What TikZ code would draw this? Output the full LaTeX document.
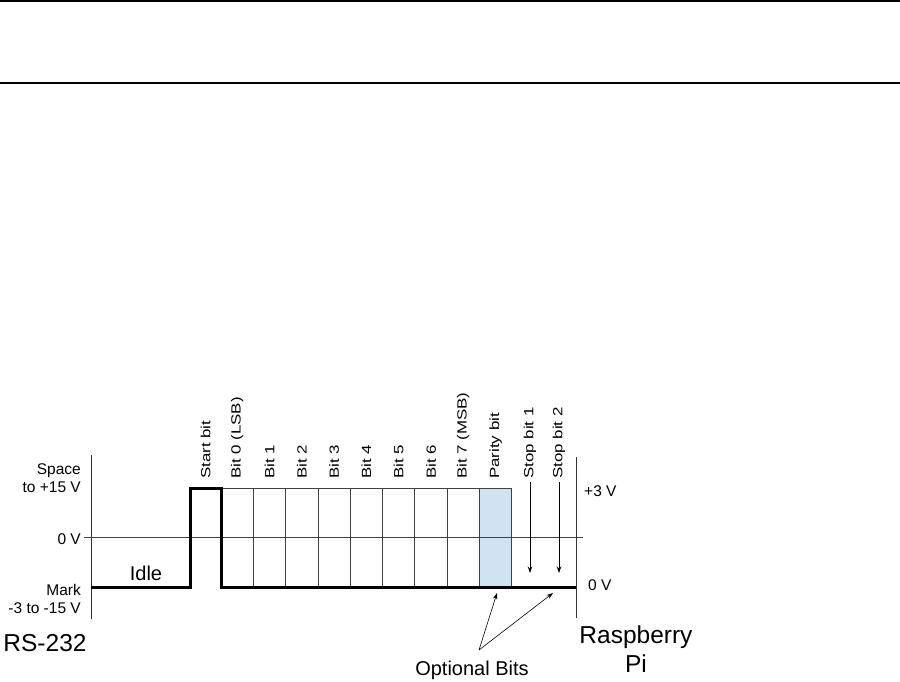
\documentclass[tikz,border=0pt]{standalone}
\usepackage{graphicx}
\usepackage{fontspec}
\setmainfont{Liberation Sans}
\usetikzlibrary{arrows.meta}
\definecolor{paritybg}{RGB}{206,228,243}
\newcommand{\bitname}[1]{\scalebox{1.27}[1]{#1}}

\begin{document}
\begin{tikzpicture}[x=1pt,y=-1pt,>={Stealth[length=6.5pt,width=4.5pt]}]
	% styles
	\tikzstyle{signal} = [line width=3pt,line join=miter]
	\tikzstyle{cell} = [draw=black!75,line width=0.8pt]
	\tikzstyle{axis} = [draw=black!80,line width=1pt]
	\tikzstyle{lvl} = [inner sep=0pt,font=\fontsize{15.5}{18}\selectfont]
	\tikzstyle{bitlbl} = [rotate=90,anchor=west,inner sep=0pt,font=\fontsize{13.3}{15}\selectfont]
	\tikzstyle{big} = [inner sep=0pt,font=\fontsize{24.5}{29}\selectfont]
	
	% bounding box
	\useasboundingbox (0,0) rectangle (900,682);
	
	% rules at the top
	\draw[line width=1.3pt] (0,1) -- (900,1);
	\draw[line width=1.3pt] (0,83) -- (900,83);
	
	% parity cell
	\fill[paritybg] (479.4,488) rectangle (511.7,587);
	
	% bit cells
	\draw[cell] (221,488) -- (511.7,488);
	\foreach \i in {1,...,9}
	{
		\draw[cell] ({221+32.3*\i},488) -- ({221+32.3*\i},587);
	}
	
	% axes and 0 V line
	\draw[axis] (91,455) -- (91,619);
	\draw[axis] (576,457) -- (576,618);
	\draw[cell] (84,537) -- (583,537);
	
	% signal
	\draw[signal] (91,587) -- (190,587) -- (190,488) -- (221,488)
	-- (221,587) -- (576,587);
	
	% levels, RS-232 side
	\node[lvl,anchor=east,align=right] (space) at (81,478.5) {Space\\to +15 V};
	\node[lvl,anchor=east] (zerol) at (81,539) {0 V};
	\node[lvl,anchor=east,align=right] (mark) at (81,598.5) {Mark\\-3 to -15 V};
	\node[inner sep=0pt,font=\fontsize{20}{24}\selectfont] (idle) at (146,573) {Idle};
	\node[big] (rs) at (45,643.5) {RS-232};
	
	% levels, Pi side
	\node[lvl,anchor=west] (plus3) at (584,491.5) {+3 V};
	\node[lvl,anchor=west] (zeror) at (588,585) {0 V};
	\node[big,align=center] (pi) at (636,649) {Raspberry\\Pi};
	
	% bit names
	\node[bitlbl] (start) at (205.5,479) {\bitname{Start bit}};
	\foreach \i/\txt in {0/Bit 0 (LSB),1/Bit 1,2/Bit 2,3/Bit 3,4/Bit 4,5/Bit 5,6/Bit 6,7/Bit 7 (MSB),8/Parity bit}
	{
		\node[bitlbl] (b\i) at ({237.2+32.3*\i},479) {\bitname{\txt}};
	}
	\node[bitlbl] (stop1) at (530,479) {\bitname{Stop bit 1}};
	\node[bitlbl] (stop2) at (559,479) {\bitname{Stop bit 2}};
	
	% stop bit arrows
	\coordinate (s1end) at (530,573);
	\coordinate (s2end) at (559,573);
	\draw[->,line width=0.8pt,shorten <=3pt] (stop1.west) -- (s1end);
	\draw[->,line width=0.8pt,shorten <=3pt] (stop2.west) -- (s2end);
	
	% optional bits
	\node[inner sep=0pt,font=\fontsize{20}{24}\selectfont] (opt) at (472,670) {Optional Bits};
	\coordinate (optsrc) at (479,650);
	\coordinate (optpar) at (497,593);
	\coordinate (optstop) at (553,593);
	\draw[->,line width=0.6pt] (optsrc) -- (optpar);
	\draw[->,line width=0.6pt] (optsrc) -- (optstop);
\end{tikzpicture}
\end{document}
